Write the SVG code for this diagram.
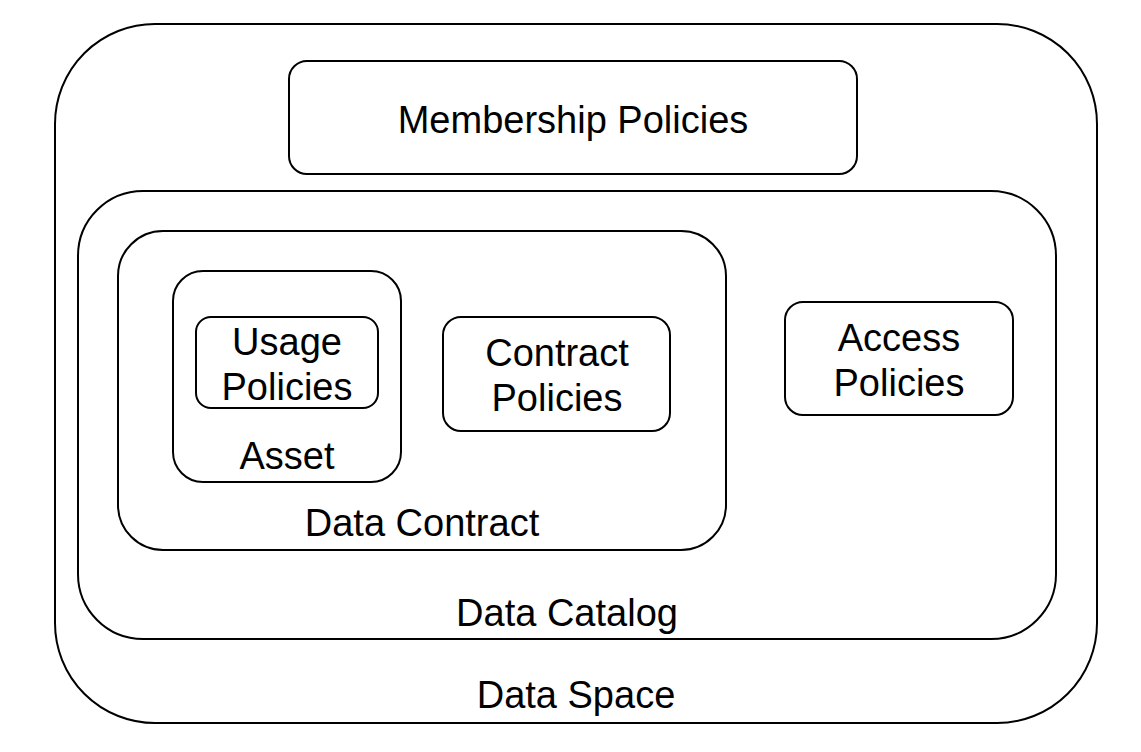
<svg xmlns="http://www.w3.org/2000/svg" width="1141" height="752" viewBox="0 0 1141 752">
<style>
rect{fill:none;stroke:#000;stroke-width:2}
text{font-family:"Liberation Sans",Arial,sans-serif;font-size:38px;fill:#000;text-anchor:middle}
</style>
<rect width="1141" height="752" fill="#fff" stroke="none" style="fill:#fff;stroke:none"/>
<g id="data-space"><rect x="55" y="24" width="1042" height="699" rx="100"/><text x="576" y="708">Data Space</text></g>
<g id="membership-policies"><rect x="289" y="61" width="568" height="113" rx="18"/><text x="573" y="133">Membership Policies</text></g>
<g id="data-catalog"><rect x="78" y="191" width="978" height="448" rx="65"/><text x="567" y="626">Data Catalog</text></g>
<g id="data-contract"><rect x="118" y="231" width="608" height="319" rx="45"/><text x="422" y="536">Data Contract</text></g>
<g id="asset"><rect x="173" y="271" width="228" height="211" rx="30"/><text x="287" y="469">Asset</text></g>
<g id="usage-policies"><rect x="196" y="317" width="182" height="91" rx="15"/><text x="287" y="355">Usage</text><text x="287" y="400">Policies</text></g>
<g id="contract-policies"><rect x="443" y="317" width="227" height="114" rx="18"/><text x="557" y="366">Contract</text><text x="557" y="411">Policies</text></g>
<g id="access-policies"><rect x="785" y="302" width="228" height="113" rx="18"/><text x="899" y="351">Access</text><text x="899" y="396">Policies</text></g>
<g id="connectors"></g>
</svg>
